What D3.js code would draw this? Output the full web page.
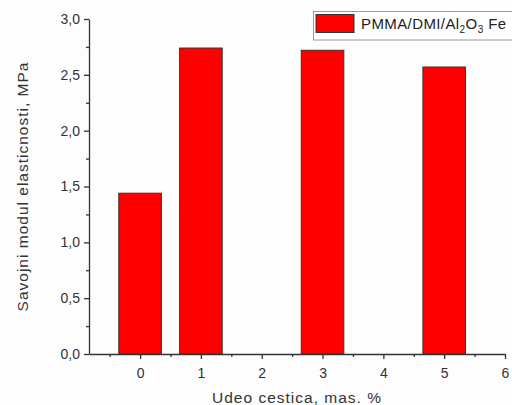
<!DOCTYPE html>
<html><head><meta charset="utf-8">
<script src="https://cdn.jsdelivr.net/npm/d3@7"></script>
<style>body{margin:0;background:#fdfdfd;} text{font-family:"Liberation Sans",Arial,sans-serif;}</style>
</head><body>
<svg id="c" width="512" height="405"></svg>
<script>
const categories = [0, 1, 3, 5];
const values = [1.44, 2.74, 2.72, 2.57];
const xTicks = [0, 1, 2, 3, 4, 5, 6];
const yTicks = [0, 0.5, 1.0, 1.5, 2.0, 2.5, 3.0];
const seriesName = "PMMA/DMI/Al2O3 Fe";

(function () {
const svg = d3.select("#c");
const mLeft = 89, mRight = 505, mTop = 19, mBottom = 354;
const x = d3.scaleLinear().domain([-0.84, 6]).range([mLeft, mRight]);
const y = d3.scaleLinear().domain([0, 3]).range([mBottom, mTop]);
const fmt = d => d3.format(".1f")(d).replace(".", ",");

// bars
const bw = x(0.7) - x(0);
svg.append("g").selectAll("rect").data(categories).join("rect")
  .attr("x", (d) => x(d) - bw / 2)
  .attr("y", (d, i) => y(values[i]))
  .attr("width", bw)
  .attr("height", (d, i) => y(0) - y(values[i]))
  .attr("fill", "#ff0000").attr("stroke", "#333").attr("stroke-width", 1);

// y axis
const yAxis = d3.axisLeft(y).tickValues(yTicks).tickFormat(fmt).tickSize(5).tickSizeOuter(0);
const gy = svg.append("g").attr("transform", `translate(${mLeft},0)`).call(yAxis);
const yMinor = d3.axisLeft(y).tickValues(d3.range(0.25, 3, 0.5)).tickFormat("").tickSize(3).tickSizeOuter(0);
const gym = svg.append("g").attr("transform", `translate(${mLeft},0)`).call(yMinor);
gym.select(".domain").remove();

// x axis
const xAxis = d3.axisBottom(x).tickValues(xTicks).tickFormat(d3.format("d")).tickSize(5).tickSizeOuter(0);
const gx = svg.append("g").attr("transform", `translate(0,${mBottom})`).call(xAxis);
const xMinor = d3.axisBottom(x).tickValues(d3.range(-0.5, 6, 1)).tickFormat("").tickSize(3).tickSizeOuter(0);
const gxm = svg.append("g").attr("transform", `translate(0,${mBottom})`).call(xMinor);
gxm.select(".domain").remove();

[gy, gym, gx, gxm].forEach(g => {
  g.selectAll("path,line").attr("stroke", "#333").attr("stroke-width", 1.3);
  g.selectAll("text").attr("font-size", 14).attr("fill", "#333")
   .style("font-family", '"Liberation Sans", Arial, sans-serif');
});
gy.selectAll("text").attr("x", -9);
gx.selectAll("text").attr("y", 14);

// axis titles
svg.append("text").attr("x", 297).attr("y", 403)
  .attr("text-anchor", "middle").attr("font-size", 15.5).attr("fill", "#333")
  .attr("letter-spacing", 1)
  .text("Udeo cestica, mas. %");
svg.append("text").attr("transform", `translate(28,${(mTop + mBottom) / 2}) rotate(-90)`)
  .attr("text-anchor", "middle").attr("font-size", 15.5).attr("fill", "#333")
  .attr("letter-spacing", 1)
  .text("Savojni modul elasticnosti, MPa");

// legend
const lg = svg.append("g");
lg.append("rect").attr("x", 313.5).attr("y", 11.5).attr("width", 220).attr("height", 28.5)
  .attr("fill", "#fff").attr("stroke", "#999").attr("stroke-width", 1);
lg.append("rect").attr("x", 316).attr("y", 14.5).attr("width", 38).attr("height", 18)
  .attr("fill", "#ff0000").attr("stroke", "#333").attr("stroke-width", 1);
const t = lg.append("text").attr("x", 361).attr("y", 29).attr("font-size", 15)
  .attr("letter-spacing", 0.4).attr("fill", "#222");
const m = seriesName.match(/^(.*?Al)(2)(O)(3)(.*)$/);
t.append("tspan").text(m[1]);
t.append("tspan").attr("font-size", 10).attr("dy", 4).text(m[2]);
t.append("tspan").attr("dy", -4).text(m[3]);
t.append("tspan").attr("font-size", 10).attr("dy", 4).text(m[4]);
t.append("tspan").attr("dy", -4).text(m[5]);
})();
</script>
</body></html>
